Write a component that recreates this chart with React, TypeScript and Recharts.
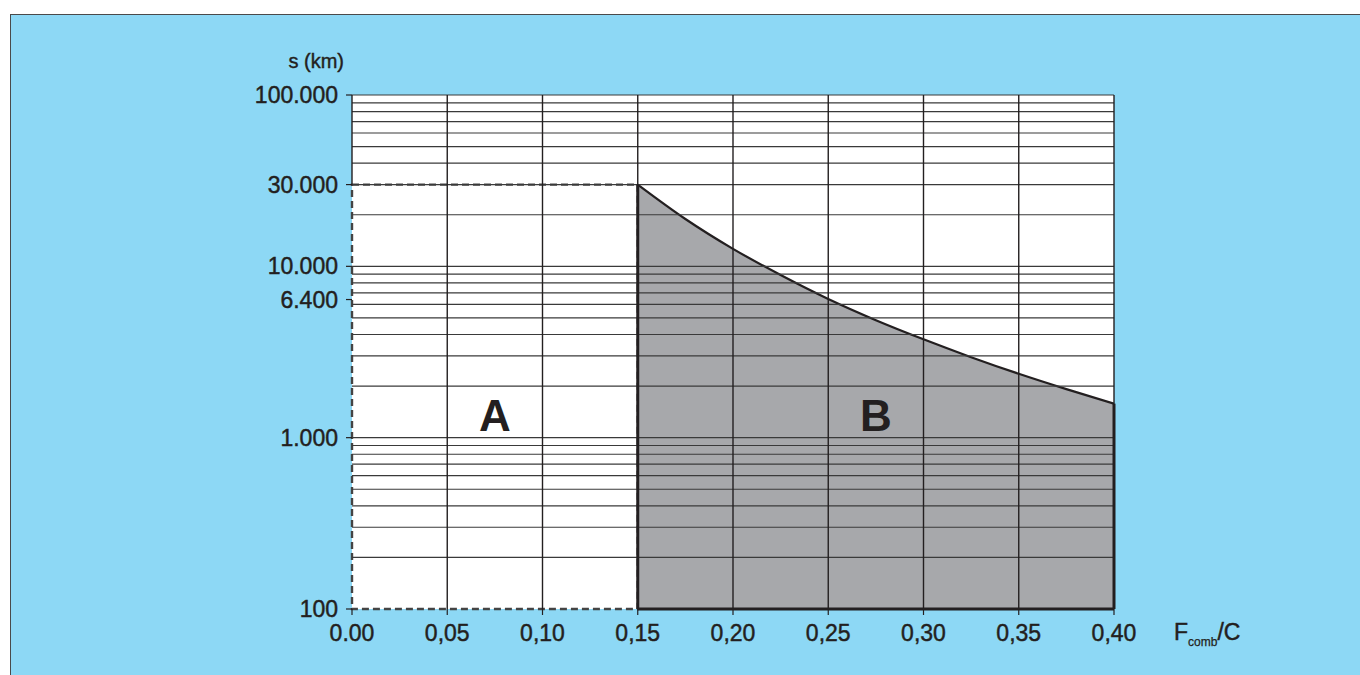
import React from 'react';
import { ComposedChart, Area, XAxis, YAxis, CartesianGrid, ReferenceLine, ReferenceArea, ReferenceDot } from 'recharts';

// load ratio F_comb / C and the permitted distance s (km) along the limit curve
const ratio = [0.15, 0.175, 0.2, 0.225, 0.25, 0.275, 0.3, 0.325, 0.35, 0.375, 0.4];
const distanceKm = [30000, 18900, 12650, 8900, 6450, 4850, 3750, 2950, 2360, 1920, 1580];

const xTicks = [0, 0.05, 0.1, 0.15, 0.2, 0.25, 0.3, 0.35, 0.4];
const yTicks = [100, 1000, 6400, 10000, 30000, 100000];
const yGrid = [
    200, 300, 400, 500, 600, 700, 800, 900,
    1000, 2000, 3000, 4000, 5000, 6000, 7000, 8000, 9000,
    10000, 20000, 30000, 40000, 50000, 60000, 70000, 80000, 90000, 100000,
];

const regionA = { x: [0, 0.15], s: [100, 30000] };
const regionB = { x: [0.15, 0.4], s: [100, 30000] };
const regionLabels = [
    { name: 'A', x: 0.075, s: 1350 },
    { name: 'B', x: 0.275, s: 1350 },
];

const FONT = '"Liberation Sans", Arial, Helvetica, sans-serif';
const INK = '#231F20';
const GRID = '#3a3a3a';

const data = ratio.map((x, i) => ({ x, s: distanceKm[i] }));

const fmtS = (v: number) => String(v).replace(/\B(?=(\d{3})+(?!\d))/g, '.');
const fmtX = (v: number) => (v === 0 ? '0.00' : v.toFixed(2).replace('.', ','));

// slightly heavier text, the original uses a medium weight
const tickStyle = { fontSize: 23, fill: INK, fontFamily: FONT, stroke: INK, strokeWidth: 0.45 };

export default function App() {
    const lastS = distanceKm[distanceKm.length - 1];

    return (
        <div style={{ position: 'absolute', left: 0, top: 0, width: 1360, height: 675, background: '#fff', overflow: 'hidden' }}>
            <div
                style={{
                    position: 'absolute', left: 10, top: 14, width: 1360, height: 675,
                    background: '#8DD8F5', borderTop: '1.5px solid #4a4a4a', borderLeft: '1.5px solid #4a4a4a',
                }}
            />
            <div style={{ position: 'absolute', left: 0, top: 0 }}>
                <ComposedChart
                    width={1360}
                    height={675}
                    data={data}
                    margin={{ top: 95, right: 246, bottom: 26, left: 272 }}
                    style={{ fontFamily: FONT }}
                >
                    <CartesianGrid fill="#ffffff" horizontal={false} vertical={false} />
                    <XAxis
                        dataKey="x"
                        type="number"
                        domain={[0, 0.4]}
                        ticks={xTicks}
                        tickFormatter={fmtX}
                        axisLine={false}
                        tickSize={6}
                        tickMargin={10}
                        height={40}
                        tickLine={{ stroke: INK, strokeWidth: 1.2 }}
                        tick={tickStyle}
                        allowDataOverflow
                    />
                    <YAxis
                        type="number"
                        scale="log"
                        domain={[100, 100000]}
                        ticks={yTicks}
                        tickFormatter={fmtS}
                        axisLine={false}
                        tickSize={6}
                        tickMargin={8}
                        width={80}
                        tickLine={{ stroke: INK, strokeWidth: 1.2 }}
                        tick={tickStyle}
                        allowDataOverflow
                    />
                    <Area
                        type="monotone"
                        dataKey="s"
                        fill="#A7A8AB"
                        fillOpacity={1}
                        stroke={INK}
                        strokeWidth={2.2}
                        baseValue={100}
                        isAnimationActive={false}
                        dot={false}
                        activeDot={false}
                    />
                    {yGrid.map(v => (
                        <ReferenceLine key={`h-${v}`} y={v} stroke={GRID} strokeWidth={1.2} />
                    ))}
                    {xTicks.slice(1).map(v => (
                        <ReferenceLine key={`v-${v}`} x={v} stroke={INK} strokeWidth={1.4} />
                    ))}
                    <ReferenceLine
                        segment={[{ x: 0, y: regionA.s[1] }, { x: 0, y: 100000 }]}
                        stroke={INK}
                        strokeWidth={1.4}
                    />
                    <ReferenceArea
                        x1={regionA.x[0]}
                        x2={regionA.x[1]}
                        y1={regionA.s[0]}
                        y2={regionA.s[1]}
                        fill="none"
                        fillOpacity={0}
                        stroke="#444"
                        strokeWidth={2.4}
                        strokeDasharray="7 4"
                    />
                    <ReferenceLine
                        segment={[{ x: regionB.x[0], y: regionB.s[0] }, { x: regionB.x[0], y: regionB.s[1] }]}
                        stroke={INK}
                        strokeWidth={3}
                    />
                    <ReferenceLine
                        segment={[{ x: regionB.x[0], y: regionB.s[0] }, { x: regionB.x[1], y: regionB.s[0] }]}
                        stroke={INK}
                        strokeWidth={3}
                    />
                    <ReferenceLine
                        segment={[{ x: regionB.x[1], y: regionB.s[0] }, { x: regionB.x[1], y: lastS }]}
                        stroke={INK}
                        strokeWidth={3}
                    />
                    {regionLabels.map(l => (
                        <ReferenceDot
                            key={l.name}
                            x={l.x}
                            y={l.s}
                            r={0}
                            fill="none"
                            stroke="none"
                            label={{ value: l.name, position: 'center', fontSize: 44, fontWeight: 700, fill: INK, fontFamily: FONT }}
                        />
                    ))}
                </ComposedChart>
            </div>
            <svg width={1360} height={675} style={{ position: 'absolute', left: 0, top: 0, pointerEvents: 'none' }}>
                <text x={344} y={68} textAnchor="end" fontSize={20} fill={INK} stroke={INK} strokeWidth={0.4} fontFamily={FONT}>s (km)</text>
                <text x={1174} y={640} fontSize={23} fill={INK} stroke={INK} strokeWidth={0.45} fontFamily={FONT}>
                    F<tspan fontSize={12} strokeWidth={0.25} dy={6}>comb</tspan><tspan fontSize={23} dy={-6}>/C</tspan>
                </text>
            </svg>
        </div>
    );
}
